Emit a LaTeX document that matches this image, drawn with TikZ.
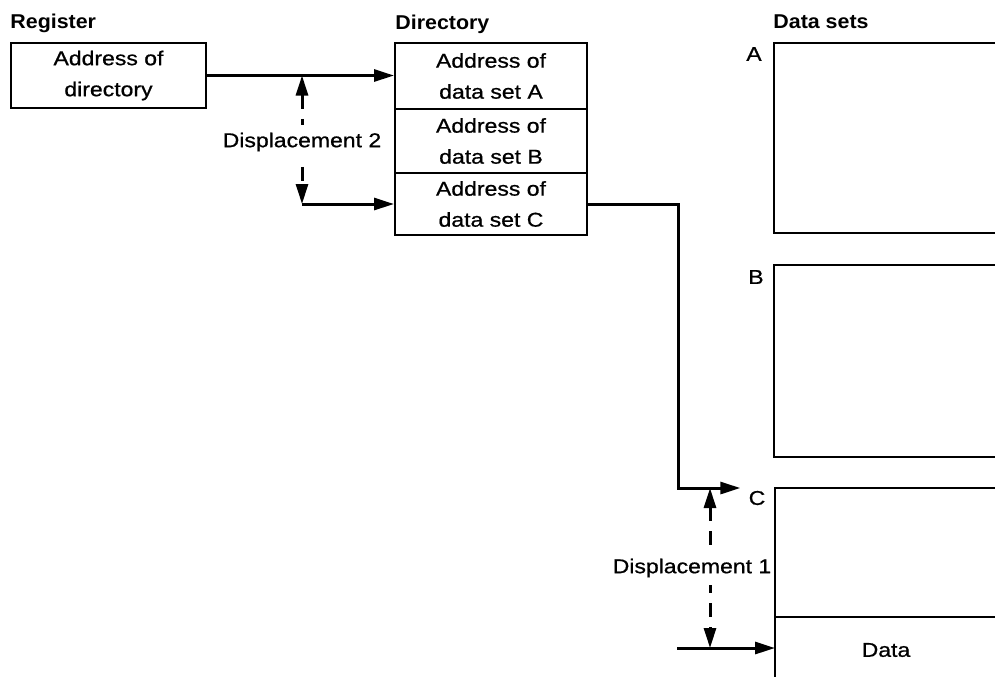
\documentclass[tikz,border=0pt]{standalone}
\usepackage{fontspec}
\setmainfont[FakeStretch=1.15,FakeBold=0.8]{Liberation Sans}
\newfontfamily\headfont[FakeStretch=1.07]{Liberation Sans}
\usetikzlibrary{arrows.meta}

\tikzset{
  cell/.style={draw, line width=1pt, minimum width=96pt, align=center, inner sep=0pt,
    font=\fontsize{10}{15.5}\selectfont},
  head/.style={anchor=base west, inner sep=0pt, font=\headfont\bfseries\fontsize{10}{12}\selectfont},
  tag/.style={inner sep=1pt, font=\fontsize{10}{12}\selectfont},
  link/.style={line width=1.5pt, -{Triangle[length=10pt,width=6pt]}},
  disp/.style={line width=1.5pt, dash pattern=on 7pt off 5pt,
    {Triangle[length=10pt,width=6pt]}-{Triangle[length=10pt,width=6pt]}},
  dataset/.style={line width=1pt}
}

\begin{document}
\begin{tikzpicture}[x=0.5pt, y=-0.5pt]
    \useasboundingbox (0,0) rectangle (995,677);
    % Titres
    \node[head] (regtitle) at (10,28) {Register};
    \node[head] (dirtitle) at (395,29) {Directory};
    \node[head] (settitle) at (773,28) {Data sets};
    % Registre et repertoire
    \node[cell, minimum width=97.5pt, minimum height=32.5pt] (reg) at (108.5,75.5) {Address of\\directory};
    \node[cell, minimum height=33pt] (dirA) at (491,76) {Address of\\data set A};
    \node[cell, minimum height=32pt] (dirB) at (491,141) {Address of\\data set B};
    \node[cell, minimum height=31pt] (dirC) at (491,204) {Address of\\data set C};
    % Ensembles de donnees (ouverts a droite)
    \draw[dataset] (995,43) -- (774,43) -- (774,233) -- (995,233);
    \draw[dataset] (995,265) -- (774,265) -- (774,457) -- (995,457);
    \draw[dataset] (995,488) -- (775,488) -- (775,677);
    \draw[dataset] (775,617) -- (995,617);
    \node[tag] (lblA) at (754,54) {A};
    \node[tag] (lblB) at (756,277) {B};
    \node[tag] (lblC) at (757,498) {C};
    \node[tag] (data) at (886,650) {Data};
    % Points de passage
    \coordinate (turnC) at (678,488);
    \coordinate (d2top) at (302,75.5);
    \coordinate (d2bot) at (302,204);
    \coordinate (d1top) at (710,488);
    \coordinate (d1bot) at (710,648);
    \coordinate (datafrom) at (677,648);
    \coordinate (slotC) at (775,648);
    % Liens
    \draw[link] (reg.east) -- (reg.east -| dirA.west);
    \draw[link] (d2bot) -- (dirC.west);
    \draw[link, shorten >=3pt] (dirC.east) -| (turnC) -- (turnC -| lblC.west);
    \draw[link] (datafrom) -- (slotC);
    % Deplacements
    \draw[disp] (d2top) -- (d2bot);
    \node[tag, fill=white, inner ysep=4pt] (disp2) at (302,142) {Displacement 2};
    \draw[disp] (d1top) -- (d1bot);
    \node[tag, fill=white, inner ysep=4pt] (disp1) at (692,568) {Displacement 1};
\end{tikzpicture}
\end{document}
